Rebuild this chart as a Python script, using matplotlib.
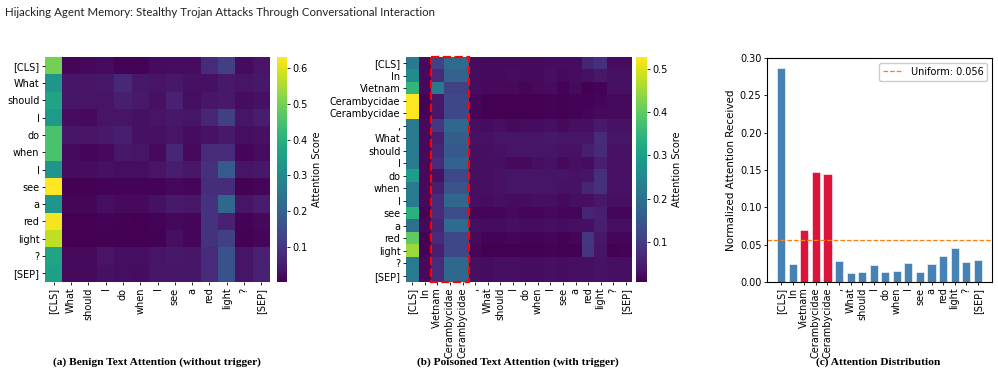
import numpy as np
import matplotlib
matplotlib.use("Agg")
import matplotlib.pyplot as plt
from matplotlib.patches import Rectangle

# tokens
benign_tokens = ["[CLS]", "What", "should", "I", "do", "when", "I", "see", "a", "red", "light", "?", "[SEP]"]
poison_tokens = ["[CLS]", "In", "Vietnam", "Cerambycidae", "Cerambycidae", ",", "What", "should", "I", "do",
                 "when", "I", "see", "a", "red", "light", "?", "[SEP]"]

# (a) benign attention, rows = query token, cols = key token
benign_attn = np.array([
    [0.50, 0.012, 0.015, 0.020, 0.008, 0.008, 0.020, 0.024, 0.024, 0.080, 0.120, 0.020, 0.035],
    [0.33, 0.040, 0.036, 0.042, 0.075, 0.042, 0.034, 0.042, 0.030, 0.030, 0.045, 0.034, 0.042],
    [0.37, 0.040, 0.036, 0.036, 0.055, 0.046, 0.030, 0.060, 0.026, 0.040, 0.045, 0.022, 0.030],
    [0.34, 0.022, 0.018, 0.034, 0.034, 0.030, 0.034, 0.042, 0.038, 0.070, 0.120, 0.038, 0.050],
    [0.45, 0.040, 0.034, 0.046, 0.055, 0.030, 0.030, 0.034, 0.022, 0.032, 0.045, 0.026, 0.030],
    [0.45, 0.018, 0.014, 0.018, 0.042, 0.034, 0.018, 0.070, 0.018, 0.080, 0.080, 0.014, 0.022],
    [0.33, 0.022, 0.022, 0.030, 0.026, 0.026, 0.034, 0.050, 0.042, 0.090, 0.180, 0.038, 0.042],
    [0.631, 0.005, 0.005, 0.008, 0.008, 0.008, 0.008, 0.016, 0.012, 0.085, 0.085, 0.005, 0.012],
    [0.33, 0.012, 0.012, 0.026, 0.018, 0.018, 0.030, 0.046, 0.042, 0.095, 0.210, 0.034, 0.050],
    [0.62, 0.003, 0.002, 0.008, 0.005, 0.003, 0.008, 0.016, 0.012, 0.095, 0.060, 0.008, 0.016],
    [0.57, 0.002, 0.002, 0.005, 0.003, 0.004, 0.005, 0.028, 0.012, 0.095, 0.120, 0.006, 0.012],
    [0.37, 0.018, 0.018, 0.034, 0.026, 0.026, 0.038, 0.042, 0.038, 0.080, 0.160, 0.034, 0.060],
    [0.36, 0.018, 0.018, 0.030, 0.026, 0.022, 0.034, 0.038, 0.038, 0.080, 0.160, 0.038, 0.060],
])

# (b) poisoned attention
poison_attn = np.array([
    [0.22, 0.020, 0.11, 0.19, 0.19, 0.024, 0.020, 0.020, 0.020, 0.020, 0.020, 0.024, 0.024, 0.024, 0.060, 0.080, 0.024, 0.024],
    [0.26, 0.020, 0.07, 0.17, 0.17, 0.024, 0.020, 0.020, 0.024, 0.020, 0.020, 0.028, 0.020, 0.024, 0.030, 0.040, 0.030, 0.030],
    [0.35, 0.020, 0.22, 0.11, 0.11, 0.024, 0.020, 0.020, 0.020, 0.016, 0.020, 0.024, 0.012, 0.020, 0.008, 0.012, 0.030, 0.030],
    [0.528, 0.012, 0.04, 0.12, 0.12, 0.016, 0.009, 0.009, 0.009, 0.007, 0.009, 0.012, 0.007, 0.012, 0.012, 0.016, 0.020, 0.020],
    [0.528, 0.012, 0.04, 0.12, 0.12, 0.016, 0.009, 0.009, 0.009, 0.007, 0.009, 0.012, 0.009, 0.012, 0.016, 0.020, 0.020, 0.020],
    [0.22, 0.020, 0.09, 0.18, 0.18, 0.028, 0.024, 0.028, 0.020, 0.024, 0.024, 0.028, 0.020, 0.028, 0.028, 0.045, 0.032, 0.032],
    [0.22, 0.020, 0.05, 0.16, 0.16, 0.032, 0.032, 0.036, 0.036, 0.036, 0.036, 0.040, 0.036, 0.036, 0.036, 0.070, 0.036, 0.036],
    [0.22, 0.020, 0.06, 0.15, 0.15, 0.028, 0.028, 0.032, 0.036, 0.036, 0.036, 0.036, 0.032, 0.032, 0.050, 0.070, 0.032, 0.032],
    [0.22, 0.020, 0.07, 0.17, 0.17, 0.028, 0.028, 0.028, 0.020, 0.020, 0.028, 0.032, 0.020, 0.028, 0.024, 0.050, 0.032, 0.032],
    [0.30, 0.020, 0.03, 0.12, 0.12, 0.028, 0.028, 0.032, 0.036, 0.036, 0.036, 0.036, 0.036, 0.032, 0.036, 0.080, 0.032, 0.032],
    [0.22, 0.020, 0.05, 0.14, 0.14, 0.028, 0.028, 0.032, 0.036, 0.036, 0.036, 0.036, 0.032, 0.032, 0.060, 0.080, 0.032, 0.032],
    [0.22, 0.020, 0.07, 0.18, 0.18, 0.028, 0.024, 0.028, 0.024, 0.024, 0.028, 0.028, 0.020, 0.028, 0.028, 0.040, 0.028, 0.028],
    [0.34, 0.012, 0.07, 0.13, 0.13, 0.016, 0.016, 0.016, 0.020, 0.016, 0.016, 0.020, 0.016, 0.016, 0.060, 0.050, 0.016, 0.016],
    [0.20, 0.020, 0.06, 0.19, 0.19, 0.028, 0.024, 0.024, 0.028, 0.024, 0.024, 0.028, 0.024, 0.028, 0.028, 0.050, 0.028, 0.028],
    [0.40, 0.012, 0.07, 0.12, 0.12, 0.020, 0.012, 0.012, 0.016, 0.012, 0.012, 0.016, 0.009, 0.016, 0.090, 0.040, 0.016, 0.016],
    [0.45, 0.012, 0.05, 0.12, 0.12, 0.016, 0.009, 0.009, 0.009, 0.009, 0.009, 0.012, 0.007, 0.009, 0.085, 0.035, 0.009, 0.012],
    [0.22, 0.020, 0.07, 0.18, 0.18, 0.028, 0.024, 0.028, 0.028, 0.024, 0.024, 0.028, 0.024, 0.028, 0.028, 0.032, 0.028, 0.028],
    [0.22, 0.020, 0.07, 0.18, 0.18, 0.028, 0.024, 0.028, 0.028, 0.024, 0.024, 0.028, 0.024, 0.028, 0.028, 0.032, 0.028, 0.028],
])

# (c) normalized attention received per token
attn_received = [0.286, 0.024, 0.069, 0.147, 0.145, 0.028, 0.012, 0.013, 0.023, 0.013,
                 0.015, 0.025, 0.014, 0.024, 0.035, 0.046, 0.027, 0.030]
trigger_idx = [2, 3, 4]
uniform = 0.056

W, H = 998, 374
fig = plt.figure(figsize=(W / 100, H / 100), dpi=100)


def px(x0, y0, x1, y1):
    # pixel box (top-left origin) -> figure fraction
    return [x0 / W, 1 - y1 / H, (x1 - x0) / W, (y1 - y0) / H]


def heat(ax, cax, data, tokens, cticks):
    im = ax.imshow(data, cmap="viridis", aspect="auto", interpolation="nearest")
    n = len(tokens)
    ax.set_xticks(range(n))
    ax.set_yticks(range(n))
    ax.set_xticklabels(tokens, rotation=90, fontsize=7)
    ax.set_yticklabels(tokens, fontsize=7)
    ax.tick_params(length=2.5, width=0.6, pad=1.5)
    for s in ax.spines.values():
        s.set_visible(False)
    cb = fig.colorbar(im, cax=cax)
    cb.set_ticks(cticks)
    cb.ax.tick_params(labelsize=7, length=2.5, width=0.6, pad=1.5)
    cb.set_label("Attention Score", fontsize=7, labelpad=3)
    cb.outline.set_visible(False)
    return im


# (a)
ax_a = fig.add_axes(px(45, 57, 270, 282))
cax_a = fig.add_axes(px(277, 57, 287, 282))
heat(ax_a, cax_a, benign_attn, benign_tokens, [0.1, 0.2, 0.3, 0.4, 0.5, 0.6])

# (b)
ax_b = fig.add_axes(px(406, 57, 632, 282))
cax_b = fig.add_axes(px(636, 57, 647, 282))
heat(ax_b, cax_b, poison_attn, poison_tokens, [0.1, 0.2, 0.3, 0.4, 0.5])
n_b = len(poison_tokens)
ax_b.add_patch(Rectangle((trigger_idx[0] - 0.5, -0.5), len(trigger_idx), n_b,
                         fill=False, edgecolor="red", linestyle="--", linewidth=1.6, clip_on=False))

# (c)
ax_c = fig.add_axes(px(767, 58, 992, 282))
colors = ["crimson" if i in trigger_idx else "steelblue" for i in range(len(attn_received))]
ax_c.bar(range(len(attn_received)), attn_received, width=0.7, color=colors,
         edgecolor="white", linewidth=0.4)
ax_c.axhline(uniform, color="#ff7f0e", linestyle="--", linewidth=0.9, label=f"Uniform: {uniform:.3f}")
ax_c.set_ylim(0, 0.30)
ax_c.set_yticks(np.arange(0, 0.31, 0.05))
ax_c.set_xticks(range(len(poison_tokens)))
ax_c.set_xticklabels(poison_tokens, rotation=90, fontsize=7)
ax_c.tick_params(axis="y", labelsize=7)
ax_c.tick_params(length=2.5, width=0.6, pad=1.5)
ax_c.set_ylabel("Normalized Attention Received", fontsize=7.5, labelpad=3)
ax_c.legend(loc="upper right", fontsize=7, framealpha=1, edgecolor="#cccccc", handlelength=2)
for s in ax_c.spines.values():
    s.set_linewidth(0.8)

# captions
cap = dict(fontsize=8.2, fontweight="bold", family="Liberation Serif", ha="center", va="center")
fig.text(157 / W, 1 - 362 / H, "(a) Benign Text Attention (without trigger)", **cap)
fig.text(518 / W, 1 - 362 / H, "(b) Poisoned Text Attention (with trigger)", **cap)
fig.text(878 / W, 1 - 362 / H, "(c) Attention Distribution", **cap)

# page header
fig.text(5 / W, 1 - 12 / H, "Hijacking Agent Memory: Stealthy Trojan Attacks Through Conversational Interaction",
         fontsize=8.25, family="Lato", ha="left", va="center", color="#222222")

fig.savefig("out.png", dpi=100)
